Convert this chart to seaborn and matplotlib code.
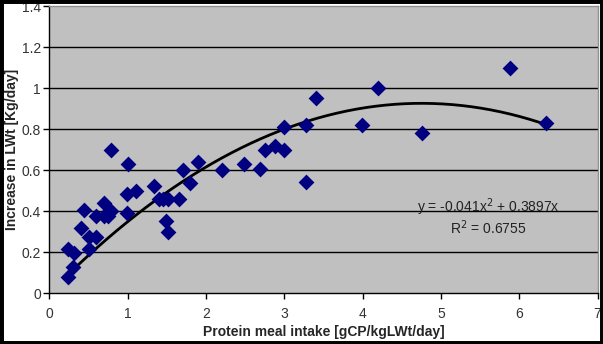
import numpy as np
import pandas as pd
import matplotlib
matplotlib.use("Agg")
import matplotlib.pyplot as plt
import seaborn as sns

# Data
protein_intake = [0.24, 0.30, 0.24, 0.31, 0.50, 0.40, 0.505, 0.60, 0.445, 0.60,
                  0.70, 0.70, 0.75, 0.79, 0.79, 1.00, 0.99, 1.10, 0.99, 1.34,
                  1.40, 1.45, 1.51, 1.66, 1.49, 1.51, 1.70, 1.80, 1.90, 2.20,
                  2.49, 2.69, 2.75, 2.88, 3.00, 3.00, 3.28, 3.28, 3.41, 3.99,
                  4.19, 4.76, 5.88, 6.34]
lwt_increase = [0.08, 0.126, 0.214, 0.197, 0.214, 0.32, 0.276, 0.276, 0.406, 0.378,
                0.442, 0.378, 0.378, 0.401, 0.70, 0.631, 0.483, 0.50, 0.39, 0.524,
                0.46, 0.46, 0.46, 0.46, 0.352, 0.297, 0.602, 0.537, 0.64, 0.599,
                0.63, 0.607, 0.70, 0.72, 0.70, 0.81, 0.819, 0.54, 0.953, 0.819,
                1.002, 0.78, 1.10, 0.83]

# Trendline coefficients shown on the chart
coef_a = -0.041
coef_b = 0.3897
trend_x_range = [0.24, 6.34]

x_ticks = [0, 1, 2, 3, 4, 5, 6, 7]
y_ticks = [0, 0.2, 0.4, 0.6, 0.8, 1, 1.2, 1.4]
y_tick_labels = ["0", "0.2", "0.4", "0.6", "0.8", "1", "1.2", "1.4"]

df = pd.DataFrame({"x": protein_intake, "y": lwt_increase})

sns.set_style("white")
plt.rcParams["font.family"] = ["Liberation Sans", "DejaVu Sans"]

fig = plt.figure(figsize=(6.03, 3.44), dpi=100, facecolor="white")
ax = fig.add_axes([0.082, 0.148, 0.909, 0.834])
ax.set_facecolor("#c0c0c0")

for yv in y_ticks[1:-1]:
    ax.axhline(yv, color="black", lw=1.0, zorder=1)

tx = np.linspace(trend_x_range[0], trend_x_range[1], 200)
ty = coef_a * tx ** 2 + coef_b * tx
ax.plot(tx, ty, color="black", lw=2, zorder=2)

sns.scatterplot(data=df, x="x", y="y", marker="D", color="#000080",
                edgecolor="#000080", s=65, ax=ax, zorder=3, linewidth=0)

ax.set_xlim(0, 7)
ax.set_ylim(0, 1.4)
ax.set_xticks(x_ticks)
ax.set_xticklabels([str(t) for t in x_ticks])
ax.set_yticks(y_ticks)
ax.set_yticklabels(y_tick_labels)
ax.tick_params(axis="both", direction="out", length=4, width=1, color="black",
               labelsize=10, labelcolor="#333333", bottom=True, left=True, pad=2)
ax.tick_params(axis="x", pad=6)

for side in ["left", "bottom"]:
    ax.spines[side].set_color("black")
    ax.spines[side].set_linewidth(1)
for side in ["top", "right"]:
    ax.spines[side].set_color("#909090")
    ax.spines[side].set_linewidth(1)

ax.set_xlabel("Protein meal intake [gCP/kgLWt/day]", fontsize=10,
              fontweight="bold", labelpad=3)
ax.set_ylabel("Increase in LWt [Kg/day]", fontsize=10, fontweight="bold",
              labelpad=2)

ax.text(5.6, 0.42, "y = -0.041x$^2$ + 0.3897x", ha="center", va="center",
        fontsize=10, color="#222222")
ax.text(5.6, 0.32, "R$^2$ = 0.6755", ha="center", va="center",
        fontsize=10, color="#222222")

# dark frame around the whole image
fig.patches.append(plt.Rectangle((0, 0), 1, 1, transform=fig.transFigure,
                                 fill=False, edgecolor="black", lw=5, zorder=10))

fig.savefig("out.png", dpi=100, facecolor="white")
